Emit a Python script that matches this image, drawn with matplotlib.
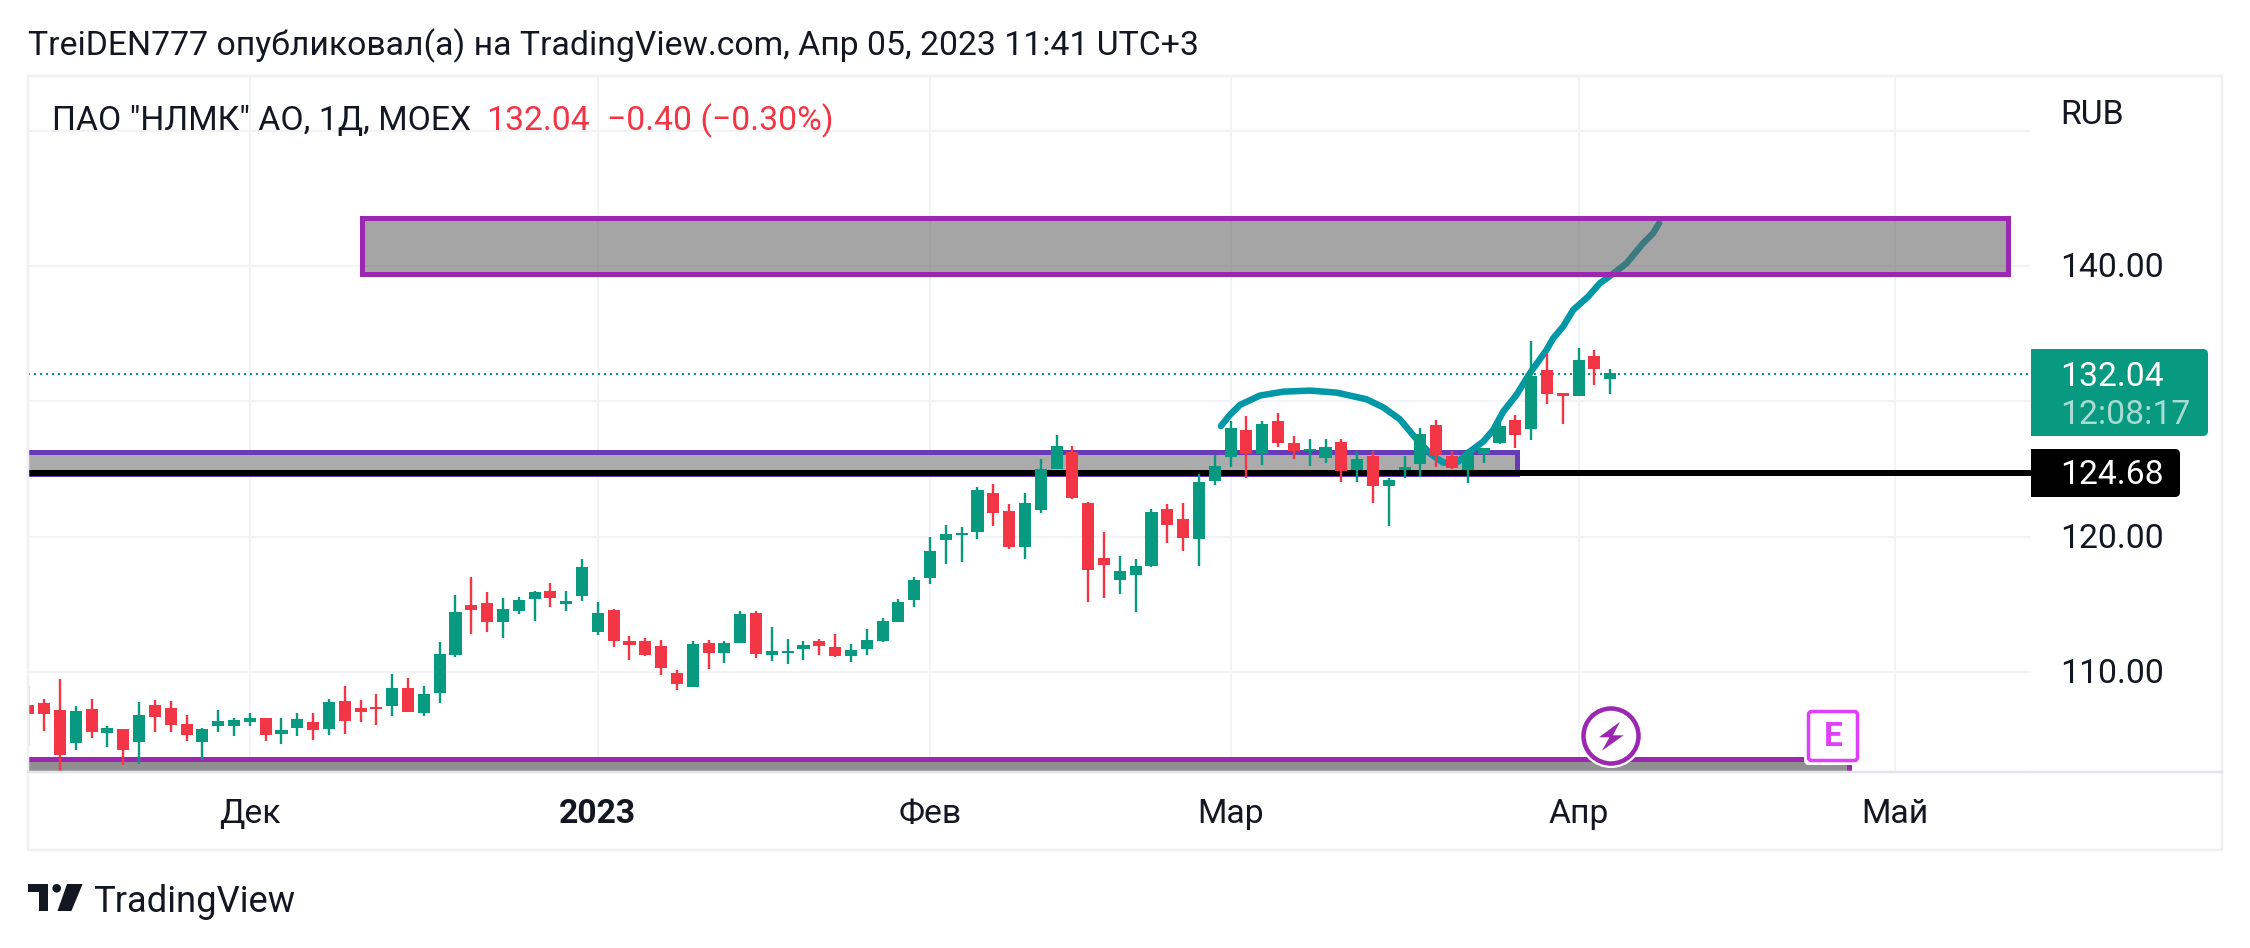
import matplotlib
matplotlib.use("Agg")
import matplotlib.pyplot as plt
from matplotlib.patches import Rectangle, FancyBboxPatch, Polygon, Circle

plt.rcParams['font.family'] = ['Roboto', 'DejaVu Sans']

# candles
opens = [107.55, 107.70, 107.18, 104.74, 107.26, 105.48, 105.78, 104.82, 107.55, 107.33,
         106.15, 104.82, 106.00, 106.00, 106.30, 106.59, 105.41, 105.85, 106.30, 105.78,
         107.85, 107.33, 107.41, 107.48, 108.81, 106.96, 108.44, 111.25, 114.95, 115.09,
         113.69, 114.50, 115.39, 115.98, 115.02, 115.61, 112.95, 114.58, 112.29, 112.29,
         111.92, 109.92, 108.89, 112.14, 111.40, 112.14, 114.36, 111.25, 111.38, 111.70,
         112.29, 111.84, 111.18, 111.70, 112.29, 113.69, 115.32, 116.94, 119.75, 120.12,
         120.34, 123.22, 121.90, 119.24, 121.97, 124.99, 126.25, 122.49, 118.42, 116.80,
         117.17, 117.83, 122.04, 121.30, 119.82, 124.11, 125.88, 127.88, 126.10, 128.54,
         126.92, 126.33, 125.81, 126.99, 124.92, 125.96, 123.74, 124.92, 125.36, 128.25,
         125.96, 124.92, 126.10, 126.92, 128.62, 127.95, 132.31, 130.61, 130.39, 133.35,
         131.65]
highs = [108.96, 108.00, 109.48, 107.48, 108.00, 106.00, 105.78, 107.77, 107.92, 107.85,
         106.81, 105.85, 107.18, 106.59, 106.96, 106.59, 106.59, 106.96, 106.96, 108.00,
         108.96, 107.92, 108.37, 109.84, 109.55, 108.96, 112.21, 115.68, 117.02, 115.91,
         115.46, 115.54, 115.98, 116.57, 115.98, 118.35, 115.17, 114.65, 112.66, 112.51,
         112.36, 110.14, 112.29, 112.36, 112.29, 114.50, 114.50, 113.32, 112.44, 112.29,
         112.44, 112.80, 112.07, 113.17, 113.99, 115.39, 117.02, 119.97, 120.86, 120.71,
         123.67, 123.89, 122.41, 123.22, 125.74, 127.51, 126.70, 122.55, 120.34, 118.57,
         118.35, 122.04, 122.41, 122.48, 124.63, 126.03, 128.54, 128.91, 128.54, 129.13,
         127.43, 127.21, 127.21, 127.21, 126.25, 126.35, 124.33, 125.96, 128.03, 128.62,
         126.33, 126.47, 126.55, 128.47, 128.99, 134.46, 133.50, 130.61, 133.94, 133.79,
         132.39]
lows = [104.60, 105.63, 102.70, 104.23, 105.11, 104.45, 103.12, 103.19, 105.56, 105.56,
        104.89, 103.49, 105.56, 105.26, 106.00, 104.89, 104.67, 105.26, 104.97, 105.34,
        105.41, 106.30, 106.07, 106.74, 107.04, 106.74, 107.70, 111.10, 112.80, 112.95,
        112.51, 114.28, 113.76, 114.80, 114.50, 115.24, 112.73, 111.84, 110.88, 111.18,
        109.77, 108.67, 108.89, 110.22, 110.66, 112.14, 111.03, 110.81, 110.59, 110.88,
        111.25, 111.10, 110.73, 111.25, 112.21, 113.69, 114.80, 116.50, 117.98, 118.13,
        119.83, 120.79, 119.09, 118.35, 121.75, 124.99, 122.78, 115.17, 115.47, 115.76,
        114.43, 117.78, 119.53, 118.93, 117.83, 123.81, 125.14, 124.33, 125.29, 126.62,
        125.73, 125.22, 125.44, 124.03, 124.03, 122.48, 120.78, 124.33, 124.40, 125.14,
        124.99, 123.96, 125.44, 126.84, 126.55, 127.14, 129.80, 128.32, 130.39, 131.20,
        130.54]
closes = [106.91, 106.91, 103.86, 107.11, 105.56, 105.85, 104.23, 106.81, 106.67, 106.07,
          105.34, 105.78, 106.37, 106.44, 106.59, 105.34, 105.71, 106.52, 105.71, 107.77,
          106.37, 107.04, 107.26, 108.81, 107.04, 108.37, 111.32, 114.43, 114.58, 113.69,
          114.65, 115.31, 115.91, 115.46, 115.24, 117.75, 114.35, 112.29, 111.99, 111.25,
          110.29, 109.11, 112.07, 111.40, 112.14, 114.28, 111.33, 111.55, 111.55, 111.99,
          111.92, 111.18, 111.62, 112.36, 113.76, 115.17, 116.80, 118.94, 120.20, 120.27,
          123.45, 121.75, 119.24, 122.49, 124.99, 126.70, 122.85, 117.54, 117.90, 117.46,
          117.83, 121.82, 120.86, 119.89, 124.03, 125.22, 128.03, 126.10, 128.32, 126.92,
          126.33, 126.47, 126.62, 124.85, 125.73, 123.74, 124.18, 125.14, 127.58, 126.03,
          125.07, 126.10, 126.55, 128.17, 127.51, 131.87, 130.54, 130.39, 133.05, 132.39,
          132.09]

# hand drawn teal line
curve_x = [75.39, 75.95, 76.59, 77.85, 79.33, 81.01, 82.70, 84.59, 85.65, 86.70, 87.65, 88.60,
           89.44, 90.39, 91.12, 91.97, 92.60, 93.23, 94.07, 94.92, 95.97, 96.39, 97.02, 97.66,
           98.60, 99.34, 100.08, 101.03, 102.08, 102.71, 103.09]
curve_y = [128.17, 128.99, 129.73, 130.42, 130.71, 130.79, 130.64, 130.15, 129.55, 128.67, 127.34, 126.15,
           125.46, 125.54, 126.28, 127.02, 127.88, 129.23, 130.47, 132.07, 133.79, 134.65, 135.52, 136.75,
           137.73, 138.72, 139.34, 140.20, 141.68, 142.42, 143.16]

# axis ticks
month_pos = [14, 36, 57, 76, 98, 118]
month_labels = ['Дек', '2023', 'Фев', 'Мар', 'Апр', 'Май']
grid_prices = [110, 120, 130, 140, 150]
price_labels = [110, 120, 140]
last_price = 132.04
black_level = 124.68

# zones: left, right, low, high
upper_zone = [21.06, 125.13, 139.41, 143.58]
middle_zone = [-20, 94.13, 124.66, 126.22]
bottom_zone = [-20, 115.1, 100, 103.53]

GREEN = '#089981'
RED = '#f23645'
PURPLE = '#9c27b0'
TEXT = '#131722'
GRID = '#f2f3f6'
PX = 0.72  # one pixel in points at dpi 100

W, H = 2250, 948
L, R, T, B = 28, 2031, 76, 772

fig = plt.figure(figsize=(W / 100, H / 100), dpi=100, facecolor='white')
ax = fig.add_axes([L / W, 1 - B / H, (R - L) / W, (B - T) / H])
ax.set_xlim(-0.025, 126.6)
ax.set_ylim(102.6, 154.04)
ax.axis('off')

for p in grid_prices:
    ax.axhline(p, color=GRID, lw=2 * PX, zorder=1)
for m in month_pos:
    ax.axvline(m, color=GRID, lw=2 * PX, zorder=1)


def zone(z, face, edge, order):
    ax.add_patch(Rectangle((z[0], z[2]), z[1] - z[0], z[3] - z[2], facecolor=face, edgecolor=edge,
                           lw=5 * PX, joinstyle='miter', zorder=order))


zone(middle_zone, '#ababab', '#673ab7', 2)
zone(bottom_zone, '#909090', PURPLE, 2)
ax.axhline(black_level, color='black', lw=6 * PX, zorder=3)
ax.axhline(last_price, color=GREEN, lw=2 * PX, ls=(0, (1, 2)), zorder=3)

ax.plot(curve_x, curve_y, color='#0097a7', lw=6.5 * PX, solid_capstyle='round',
        solid_joinstyle='round', zorder=4)

idx = list(range(len(opens)))
colors = [GREEN if c >= o else RED for o, c in zip(opens, closes)]
ax.vlines(idx, lows, highs, colors=colors, lw=2.4 * PX, zorder=5)
ax.bar(idx, [abs(c - o) for o, c in zip(opens, closes)], bottom=[min(o, c) for o, c in zip(opens, closes)],
       width=0.76, color=colors, linewidth=0, zorder=6)

# drawn after the line so the line goes grey inside the box
zone(upper_zone, (0.40, 0.40, 0.40, 0.584), PURPLE, 7)

# everything outside the chart, in pixels of the picture
ov = fig.add_axes([0, 0, 1, 1])
ov.set_xlim(0, W)
ov.set_ylim(H, 0)
ov.axis('off')
ov.patch.set_alpha(0)

ov.add_patch(Rectangle((L, T), 2222 - L, 850 - T, fill=False, edgecolor='#f0f1f4', lw=2.5 * PX))
ov.plot([L, R - 1], [B, B], color='#e3e5ea', lw=2.5 * PX)
ov.plot([R + 1, 2222], [B, B], color='#e3e5ea', lw=2.5 * PX)

FS = 24.3
ov.text(28, 46, 'TreiDEN777 опубликовал(а) на TradingView.com, Апр 05, 2023 11:41 UTC+3',
        fontsize=FS, color=TEXT, va='center', ha='left')
ov.text(52, 121, 'ПАО "НЛМК" АО, 1Д, MOEX', fontsize=FS, color=TEXT, va='center', ha='left')
ov.text(486, 121, '132.04', fontsize=FS, color=RED, va='center', ha='left')
ov.text(607, 121, '\u22120.40 (\u22120.30%)', fontsize=FS, color=RED, va='center', ha='left')
ov.text(2060, 115, 'RUB', fontsize=FS, color=TEXT, va='center', ha='left')

for p in price_labels:
    py = T + (ax.get_ylim()[1] - p) / (ax.get_ylim()[1] - ax.get_ylim()[0]) * (B - T)
    ov.text(2060, py + 2, '%.2f' % p, fontsize=FS, color=TEXT, va='center', ha='left')

for m, label in zip(month_pos, month_labels):
    mx = L + (m - ax.get_xlim()[0]) / (ax.get_xlim()[1] - ax.get_xlim()[0]) * (R - L)
    ov.text(mx, 814, label, fontsize=FS, color=TEXT, va='center', ha='center',
            fontweight='bold' if label == '2023' else 'normal')

# price labels on the right
ov.add_patch(FancyBboxPatch((R, 349), 177, 87, boxstyle='round,pad=0,rounding_size=5',
                            facecolor=GREEN, edgecolor='none', zorder=3))
ov.add_patch(Rectangle((R, 349), 10, 87, facecolor=GREEN, edgecolor='none', zorder=3))
ov.text(2060, 377, '%.2f' % last_price, fontsize=FS, color='white', va='center', ha='left', zorder=4)
ov.text(2060, 415, '12:08:17', fontsize=FS, color='#a8dcd2', va='center', ha='left', zorder=4)
ov.add_patch(FancyBboxPatch((R, 449), 149, 48, boxstyle='round,pad=0,rounding_size=5',
                            facecolor='black', edgecolor='none', zorder=3))
ov.add_patch(Rectangle((R, 449), 10, 48, facecolor='black', edgecolor='none', zorder=3))
ov.text(2060, 475, '%.2f' % black_level, fontsize=FS, color='white', va='center', ha='left', zorder=4)

# lightning marker
ov.add_patch(Circle((1611, 736), 32, facecolor='white', edgecolor='none', zorder=5))
ov.add_patch(Circle((1611, 736), 27.5, facecolor='white', edgecolor=PURPLE, lw=4.5 * PX, zorder=6))
ov.add_patch(Polygon([(1620, 721.7), (1599, 737.3), (1609.4, 737.3), (1602, 750.7), (1623.7, 735.3),
                      (1613, 735.3)], closed=True, facecolor=PURPLE, edgecolor='none', zorder=7))

# earnings marker
ov.add_patch(FancyBboxPatch((1804, 707), 58, 58, boxstyle='round,pad=0,rounding_size=5',
                            facecolor='white', edgecolor='none', zorder=5))
ov.add_patch(FancyBboxPatch((1808.5, 711.5), 49, 49, boxstyle='round,pad=0,rounding_size=3',
                            facecolor='white', edgecolor='#e040fb', lw=3.5 * PX, zorder=6))
ov.text(1833.5, 737, 'E', fontsize=24, color='#e040fb', fontweight='bold', va='center', ha='center', zorder=7)

# logo
ov.add_patch(Polygon([(28, 884), (48.2, 884), (48.2, 911), (39.3, 911), (39.3, 892), (28, 892)],
                     closed=True, facecolor=TEXT, edgecolor='none'))
ov.add_patch(Circle((56.7, 888.3), 4.3, facecolor=TEXT, edgecolor='none'))
ov.add_patch(Polygon([(67, 884), (82.6, 884), (71.4, 911), (57.5, 911)], closed=True,
                     facecolor=TEXT, edgecolor='none'))
ov.text(93, 902, 'TradingView', fontsize=26.2, color=TEXT, va='center', ha='left')

fig.savefig('out.png', dpi=100)
